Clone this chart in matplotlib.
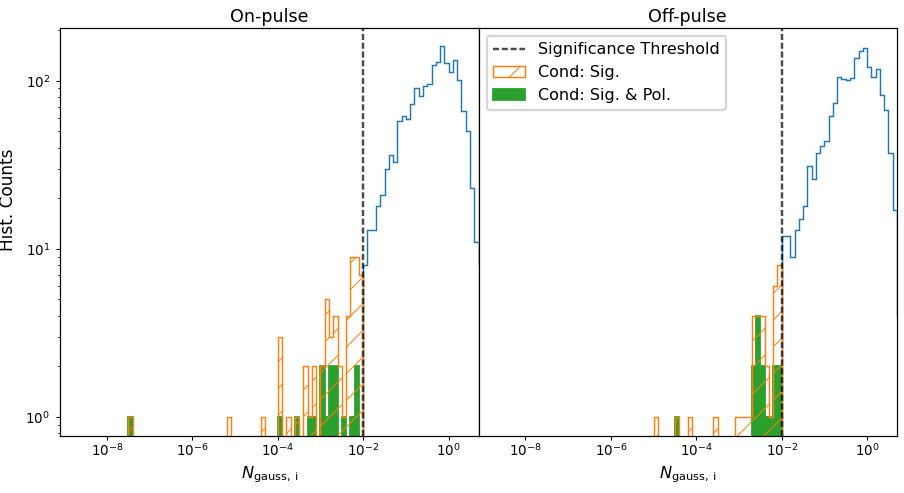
import numpy as np
import matplotlib
matplotlib.use("Agg")
import matplotlib.pyplot as plt
from matplotlib.ticker import NullLocator

# Histogram bins are 0.1 dex wide in log10(N_gauss,i); every list below gives
# the log10 of a bin's left edge and the count.
THRESHOLD = 1e-2

ALL_LOGBINS = [round(-2.0 + 0.1 * i, 1) for i in range(28)]
ON_ALL_COUNTS = [8, 13, 13, 18, 21, 30, 36, 33, 58, 62, 59, 73, 90, 81, 93, 96,
                 124, 129, 161, 128, 113, 133, 101, 66, 50, 23, 11, 8]
OFF_ALL_COUNTS = [12, 12, 9, 13, 15, 18, 31, 26, 37, 41, 44, 62, 74, 106, 102, 101,
                  104, 137, 150, 157, 121, 105, 117, 82, 67, 37, 17, 4]

ON_SIG_LOGBINS = [-7.5, -5.2, -4.4, -4.0, -3.8, -3.6, -3.4, -3.3, -3.2, -3.0,
                  -2.9, -2.8, -2.7, -2.6, -2.5, -2.4, -2.3, -2.2, -2.1]
ON_SIG_COUNTS = [1, 1, 1, 3, 1, 1, 2, 1, 2, 2, 5, 3, 4, 2, 1, 4, 9, 9, 7]
ON_POL_LOGBINS = [-7.5, -4.0, -3.6, -3.3, -3.2, -3.0, -2.9, -2.8, -2.7, -2.5, -2.3, -2.2]
ON_POL_COUNTS = [1, 1, 1, 1, 1, 2, 1, 2, 2, 1, 1, 2]

OFF_SIG_LOGBINS = [-5.0, -4.5, -4.2, -3.6, -3.1, -3.0, -2.9, -2.8, -2.7, -2.6,
                   -2.5, -2.4, -2.3, -2.2, -2.1]
OFF_SIG_COUNTS = [1, 1, 1, 1, 1, 1, 1, 1, 4, 4, 4, 2, 1, 6, 8]
OFF_POL_LOGBINS = [-4.5, -2.7, -2.6, -2.5, -2.4, -2.3, -2.2, -2.1]
OFF_POL_COUNTS = [1, 2, 4, 2, 1, 1, 2, 2]

X_TICKS = [1e-8, 1e-6, 1e-4, 1e-2, 1e0]
TITLES = ["On-pulse", "Off-pulse"]

EDGES = 10 ** (np.arange(-90, 82) / 10)

plt.rcParams.update({
    "font.size": 6.1,
    "axes.linewidth": 0.55,
    "xtick.major.size": 1.8,
    "ytick.major.size": 1.8,
    "ytick.minor.size": 1.0,
    "xtick.major.width": 0.5,
    "ytick.major.width": 0.5,
    "ytick.minor.width": 0.45,
    "xtick.major.pad": 1.2,
    "ytick.major.pad": 2.6,
    "hatch.linewidth": 0.45,
    "legend.fontsize": 7.2,
})


def centres(logbins):
    # put one weighted sample in the middle of each bin
    return 10 ** (np.array(logbins) + 0.05)


def draw_panel(ax, all_counts, sig_bins, sig_counts, pol_bins, pol_counts):
    ax.hist(centres(ALL_LOGBINS), bins=EDGES, weights=all_counts,
            histtype="step", color="C0", lw=0.65, log=True)
    _, _, sig = ax.hist(centres(sig_bins), bins=EDGES, weights=sig_counts,
                        histtype="step", color="C1", lw=0.65, hatch="//", log=True)
    _, _, pol = ax.hist(centres(pol_bins), bins=EDGES, weights=pol_counts,
                        histtype="stepfilled", color="C2", log=True)
    pol[0].set_edgecolor("C2")
    pol[0].set_linewidth(0.8)
    thr = ax.axvline(THRESHOLD, color="k", alpha=0.7, lw=1.1, ls=(0, (2.5, 1.1)))
    return thr, sig[0], pol[0]


fig, (ax1, ax2) = plt.subplots(1, 2, sharey=True, figsize=(904 / 160, 493 / 160), dpi=160)
fig.subplots_adjust(left=60 / 904, right=897 / 904, bottom=1 - 436 / 493, top=1 - 28 / 493, wspace=0)

draw_panel(ax1, ON_ALL_COUNTS, ON_SIG_LOGBINS, ON_SIG_COUNTS, ON_POL_LOGBINS, ON_POL_COUNTS)
handles = draw_panel(ax2, OFF_ALL_COUNTS, OFF_SIG_LOGBINS, OFF_SIG_COUNTS, OFF_POL_LOGBINS, OFF_POL_COUNTS)

for ax, title in zip([ax1, ax2], TITLES):
    ax.set_xscale("log")
    ax.set_xlim(10 ** -9.1, 10 ** 0.7)
    ax.set_xticks(X_TICKS)
    ax.xaxis.set_minor_locator(NullLocator())
    ax.set_title(title, fontsize=7.9, pad=2.6)
    ax.set_xlabel(r"$N_{\mathrm{gauss,\,i}}$", fontsize=7.3, labelpad=2.5)

ax1.set_ylim(0.77, 206)
ax1.set_ylabel("Hist. Counts", fontsize=7.6, y=0.58)
ax2.tick_params(axis="y", which="both", left=False)

ax2.legend(handles, ["Significance Threshold", "Cond: Sig.", "Cond: Sig. & Pol."], loc="upper left")

fig.savefig("out.png", dpi=160)
